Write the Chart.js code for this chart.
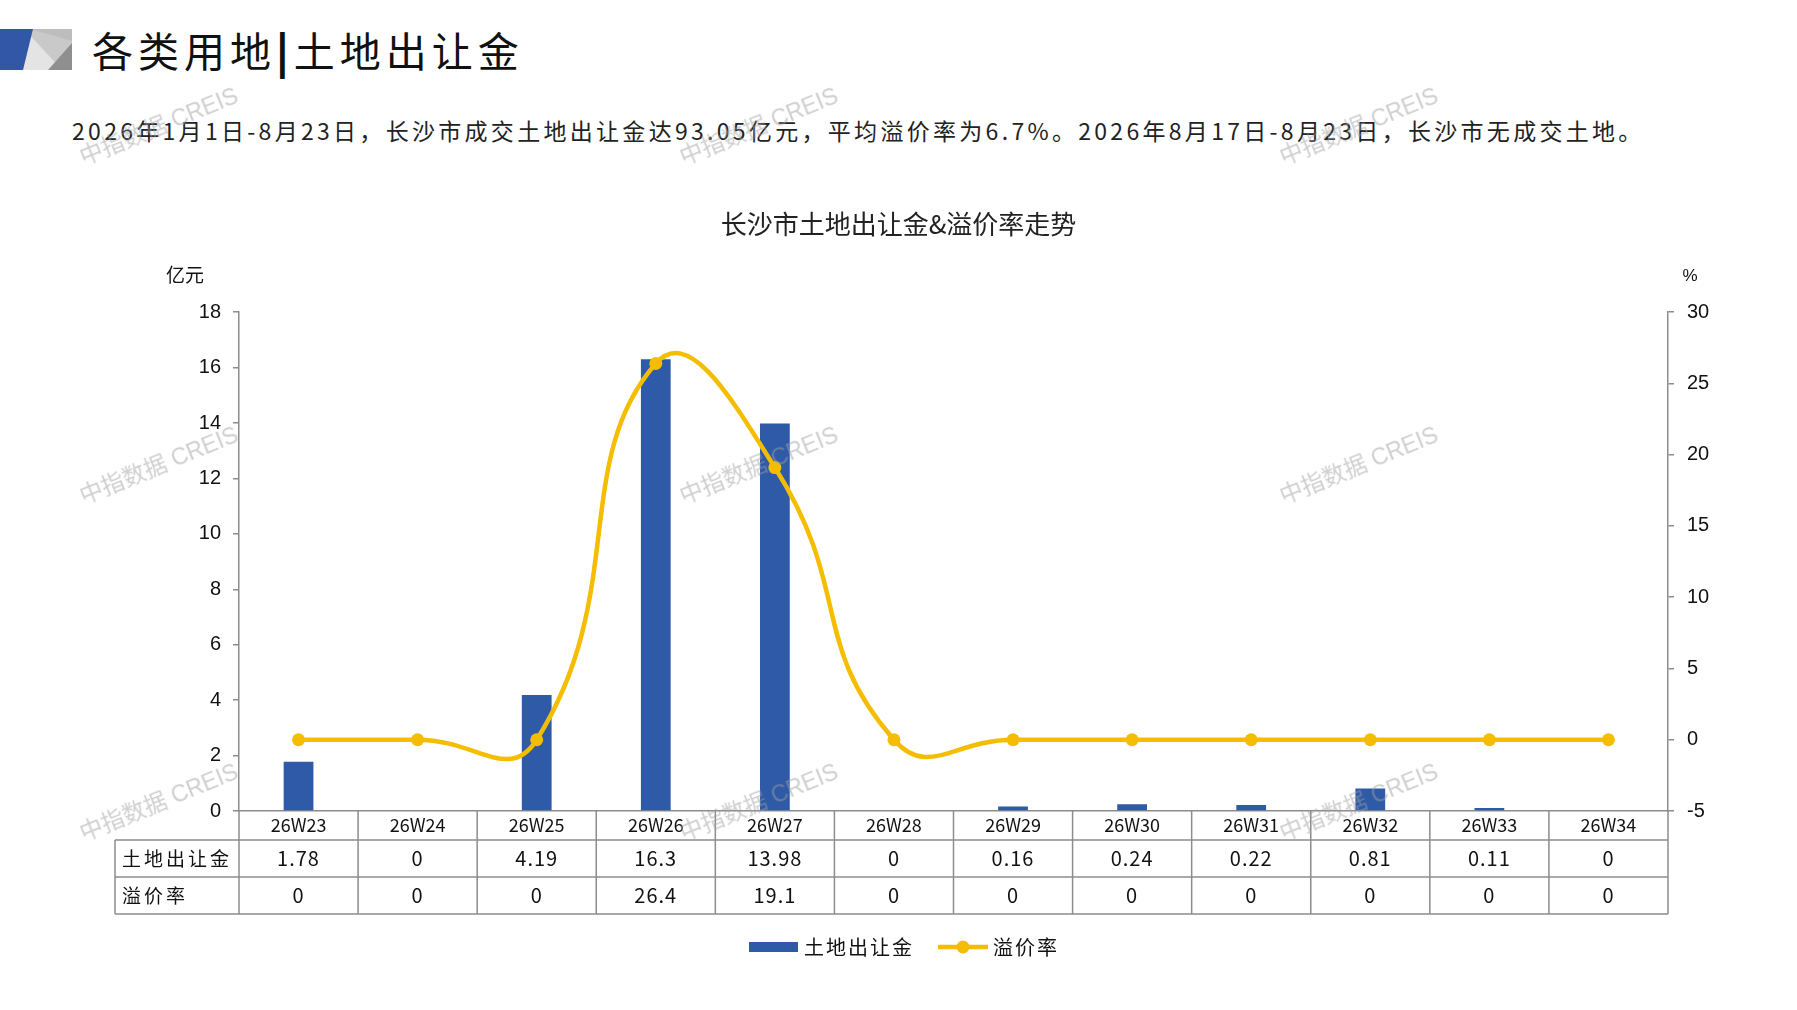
<!DOCTYPE html>
<html><head><meta charset="utf-8">
<script src="https://cdn.jsdelivr.net/npm/chart.js@4.4.1/dist/chart.umd.min.js"></script>
<style>
html,body{margin:0;padding:0;background:#fff;width:1797px;height:1010px;overflow:hidden;}
body{position:relative;font-family:"Noto Sans CJK SC",sans-serif;}
#c{position:absolute;left:0;top:0;}
.h{position:absolute;left:92px;top:20px;font-size:41px;letter-spacing:5px;color:#111;line-height:58px;white-space:nowrap;}
.h b{font-weight:900;}
.sub{position:absolute;left:72px;top:113px;font-size:23px;letter-spacing:3.3px;line-height:34px;color:#222;white-space:nowrap;}
.wm{position:absolute;color:rgba(160,160,160,0.5);font-size:23px;transform:translate(-50%,-50%) rotate(-22deg);white-space:nowrap;pointer-events:none;font-family:"Liberation Sans","Noto Sans CJK SC",sans-serif;z-index:5;}
svg.icon{position:absolute;left:0;top:29px;}
</style></head>
<body>
<svg class="icon" width="74" height="42" viewBox="0 0 74 42">
  <rect x="0" y="0" width="72" height="41" fill="#c9c9c9"/>
  <polygon points="30,0 72,0 72,12" fill="#bdbdbd"/>
  <polygon points="28,4 22,41 62,41" fill="#e4e4e4"/>
  <polygon points="72,14 72,41 48,41" fill="#8f8f8f"/>
  <polygon points="0,0 33,0 23,41 0,41" fill="#3257a6"/>
</svg>
<div class="h">各类用地<b>|</b>土地出让金</div>
<div class="sub">2026年1月1日-8月23日，长沙市成交土地出让金达93.05亿元，平均溢价率为6.7%。2026年8月17日-8月23日，长沙市无成交土地。</div>
<canvas id="c" width="1797" height="1010"></canvas>
<div class="wm" style="left:158px;top:124px">中指数据 CREIS</div>
<div class="wm" style="left:758px;top:124px">中指数据 CREIS</div>
<div class="wm" style="left:1358px;top:124px">中指数据 CREIS</div>
<div class="wm" style="left:158px;top:463px">中指数据 CREIS</div>
<div class="wm" style="left:758px;top:463px">中指数据 CREIS</div>
<div class="wm" style="left:1358px;top:463px">中指数据 CREIS</div>
<div class="wm" style="left:158px;top:800px">中指数据 CREIS</div>
<div class="wm" style="left:758px;top:800px">中指数据 CREIS</div>
<div class="wm" style="left:1358px;top:800px">中指数据 CREIS</div>
<script>
// ---- data ----
const categories = ['26W23','26W24','26W25','26W26','26W27','26W28','26W29','26W30','26W31','26W32','26W33','26W34'];
const landFee = [1.78, 0, 4.19, 16.3, 13.98, 0, 0.16, 0.24, 0.22, 0.81, 0.11, 0];
const premiumRate = [0, 0, 0, 26.4, 19.1, 0, 0, 0, 0, 0, 0, 0];
const seriesNames = ['土地出让金', '溢价率'];
const chartTitle = '长沙市土地出让金&溢价率走势';
const leftUnit = '亿元';
const rightUnit = '%';
const leftAxis = {min: 0, max: 18, step: 2};
const rightAxis = {min: -5, max: 30, step: 5};

// ---- style ----
const BAR = '#2e5aa7';
const LINE = '#f5bd00';
const GRID = '#8c8c8c';
const CJK = '"Noto Sans CJK SC", sans-serif';
const NUM = '"Liberation Sans", Arial, sans-serif';
const TABLE_LEFT = 115;
const ROW_H = [29, 37, 37];

const tablePlugin = {
  id: 'tableAndLegend',
  afterDraw(chart) {
    const {ctx, chartArea: ca, scales} = chart;
    const x = scales.x;
    const n = categories.length;
    const step = x.getPixelForValue(1) - x.getPixelForValue(0);
    const r0 = ca.bottom, r1 = r0 + ROW_H[0], r2 = r1 + ROW_H[1], r3 = r2 + ROW_H[2];
    ctx.save();
    ctx.strokeStyle = GRID;
    ctx.lineWidth = 1.5;
    const ln = (a, b, c, d) => { ctx.beginPath(); ctx.moveTo(a, b); ctx.lineTo(c, d); ctx.stroke(); };
    ln(TABLE_LEFT, r1, ca.right, r1);
    ln(TABLE_LEFT, r2, ca.right, r2);
    ln(TABLE_LEFT, r3, ca.right, r3);
    ln(TABLE_LEFT, r1, TABLE_LEFT, r3);
    for (let i = 0; i <= n; i++) {
      const xb = x.getPixelForValue(0) - step / 2 + i * step;
      ln(xb, r0, xb, r3);
    }
    ctx.fillStyle = '#111';
    ctx.textBaseline = 'middle';
    ctx.font = '19px ' + CJK;
    ctx.textAlign = 'left';
    ctx.letterSpacing = '3px';
    ctx.fillText(seriesNames[0], TABLE_LEFT + 7, (r1 + r2) / 2);
    ctx.fillText(seriesNames[1], TABLE_LEFT + 7, (r2 + r3) / 2);
    ctx.font = '20px ' + CJK;
    ctx.letterSpacing = '1px';
    ctx.textAlign = 'center';
    for (let i = 0; i < n; i++) {
      const cx = x.getPixelForValue(i);
      ctx.fillText(String(landFee[i]), cx, (r1 + r2) / 2);
      ctx.fillText(String(premiumRate[i]), cx, (r2 + r3) / 2);
    }
    ctx.letterSpacing = '0px';
    // unit labels
    ctx.font = '19px ' + CJK;
    ctx.textAlign = 'center';
    ctx.fillText(leftUnit, 185, 275);
    ctx.font = '17px ' + NUM;
    ctx.fillText(rightUnit, 1690, 276);
    // legend
    const ly = 947;
    ctx.font = '20px ' + CJK;
    ctx.letterSpacing = '2px';
    const w1 = ctx.measureText(seriesNames[0]).width;
    const w2 = ctx.measureText(seriesNames[1]).width;
    const total = 49 + 6 + w1 + 24 + 50 + 5 + w2;
    let lx = 904 - total / 2;
    ctx.fillStyle = BAR;
    ctx.fillRect(lx, ly - 5, 49, 10);
    lx += 49 + 6;
    ctx.fillStyle = '#111';
    ctx.textAlign = 'left';
    ctx.fillText(seriesNames[0], lx, ly);
    lx += w1 + 24;
    ctx.strokeStyle = LINE;
    ctx.lineWidth = 4.5;
    ln(lx, ly, lx + 50, ly);
    ctx.fillStyle = LINE;
    ctx.beginPath(); ctx.arc(lx + 25, ly, 6.5, 0, Math.PI * 2); ctx.fill();
    lx += 50 + 5;
    ctx.fillStyle = '#111';
    ctx.fillText(seriesNames[1], lx, ly);
    ctx.letterSpacing = '0px';
    ctx.restore();
  }
};

new Chart(document.getElementById('c'), {
  data: {
    labels: categories,
    datasets: [
      {
        type: 'line', label: seriesNames[1], data: premiumRate, yAxisID: 'yR',
        borderColor: LINE, backgroundColor: LINE, borderWidth: 4.5,
        pointRadius: 6.5, pointBackgroundColor: LINE, pointBorderWidth: 0,
        tension: 0.5, order: 0
      },
      {
        type: 'bar', label: seriesNames[0], data: landFee, yAxisID: 'yL',
        backgroundColor: BAR, barPercentage: 0.25, categoryPercentage: 1, order: 1
      }
    ]
  },
  options: {
    responsive: false,
    animation: false,
    devicePixelRatio: 1,
    layout: {padding: {left: 0, right: 0, top: 0, bottom: 96}},
    plugins: {
      legend: {display: false},
      tooltip: {enabled: false},
      title: {
        display: true, text: chartTitle, color: '#222',
        font: {family: CJK, size: 26, weight: 'normal'},
        padding: {top: 209, bottom: 72}
      }
    },
    scales: {
      x: {
        position: 'bottom',
        grid: {display: false, drawTicks: false},
        border: {display: true, color: GRID, width: 1.5},
        ticks: {color: '#111', font: {family: CJK, size: 18}, padding: 3, maxRotation: 0, autoSkip: false},
        afterFit(s) { s.height = ROW_H[0] + ROW_H[1] + ROW_H[2]; }
      },
      yL: {
        position: 'left', min: leftAxis.min, max: leftAxis.max,
        grid: {drawOnChartArea: false, drawTicks: true, tickLength: 6, color: GRID, lineWidth: 1.5},
        border: {display: true, color: GRID, width: 1.5},
        ticks: {stepSize: leftAxis.step, color: '#111', font: {family: NUM, size: 20}, padding: 12},
        afterFit(s) { s.width = 239; }
      },
      yR: {
        position: 'right', min: rightAxis.min, max: rightAxis.max,
        grid: {drawOnChartArea: false, drawTicks: true, tickLength: 6, color: GRID, lineWidth: 1.5},
        border: {display: true, color: GRID, width: 1.5},
        ticks: {stepSize: rightAxis.step, color: '#111', font: {family: NUM, size: 20}, padding: 13},
        afterFit(s) { s.width = 1797 - 1668; }
      }
    }
  },
  plugins: [tablePlugin]
});
</script>
</body></html>
